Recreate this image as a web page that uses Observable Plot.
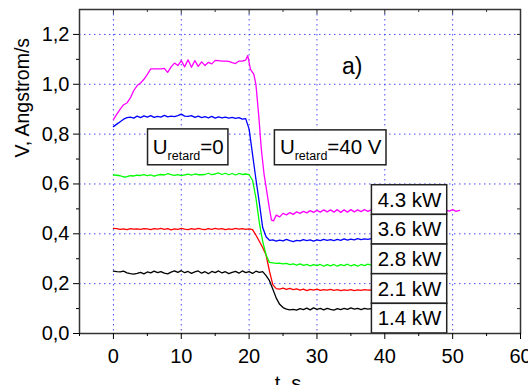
<!DOCTYPE html>
<html>
<head>
<meta charset="utf-8">
<script src="https://cdn.jsdelivr.net/npm/d3@7"></script>
<script src="https://cdn.jsdelivr.net/npm/@observablehq/plot@0.6"></script>
<style>
  html, body { margin: 0; padding: 0; background: white; overflow: hidden; }
  #chart { width: 528px; height: 385px; }
</style>
</head>
<body>
<div id="chart"></div>
<script>
// ---- Ticks ----
const xMajor = [0, 10, 20, 30, 40, 50, 60];
const xMinor = [-5, 5, 15, 25, 35, 45, 55];
const yMajor = [0, 0.2, 0.4, 0.6, 0.8, 1.0, 1.2];
const yMinor = [0.1, 0.3, 0.5, 0.7, 0.9, 1.1];
const gridXVals = [0, 10, 20, 30, 40, 50];
const gridYVals = [0.2, 0.4, 0.6, 0.8, 1.0, 1.2];

// ---- Series (t in s, V in Angstrom/s) ----
const s14 = [[0,.250],[.5,.248],[1,.247],[1.5,.250],[2,.243],[2.5,.240],[3,.238],[3.5,.241],[4,.245],[4.5,.239],[5,.247],[5.5,.243],[6,.250],[6.5,.244],[7,.248],[7.5,.242],[8,.239],[8.5,.246],[9,.251],[9.5,.245],[10,.252],[10.5,.244],[11,.249],[11.5,.241],[12,.247],[12.5,.251],[13,.242],[13.5,.248],[14,.240],[14.5,.249],[15,.244],[15.5,.251],[16,.243],[16.5,.248],[17,.240],[17.5,.245],[18,.249],[18.5,.242],[19,.251],[19.5,.244],[20,.248],[20.5,.241],[21,.250],[21.5,.245],[22,.248],
  [22.5,.232],[23,.212],[23.5,.178],[24,.142],[24.5,.117],[25,.104],[25.5,.098],[26,.095],[26.5,.097],
  [27,.094],[27.5,.100],[28,.096],[28.5,.102],[29,.095],[29.5,.103],[30,.097],[30.5,.101],[31,.095],[31.5,.101],[32,.097],[32.5,.094],[33,.100],[33.5,.096],[34,.101],[34.5,.097],[35,.103],[35.5,.098],[36,.101],[36.5,.096],[37,.101],[37.5,.098],[38,.100],[38.5,.098]];

const s21 = [[0,.422],[.5,.421],[1,.418],[1.5,.420],[2,.417],[2.5,.421],[3,.419],[3.5,.420],[4,.418],[4.5,.421],[5,.420],[5.5,.417],[6,.421],[6.5,.419],[7,.422],[7.5,.418],[8,.421],[8.5,.416],[9,.420],[9.5,.418],[10,.422],[10.5,.419],[11,.417],[11.5,.421],[12,.418],[12.5,.422],[13,.419],[13.5,.417],[14,.421],[14.5,.418],[15,.422],[15.5,.419],[16,.421],[16.5,.417],[17,.420],[17.5,.418],[18,.422],[18.5,.419],[19,.421],[19.5,.418],[20,.420],[20.5,.417],
  [21,.395],[21.5,.370],[22,.345],[22.5,.315],[23,.250],[23.5,.195],[24,.180],
  [24.5,.178],[25,.182],[25.5,.177],[26,.181],[26.5,.176],[27,.179],[27.5,.174],[28,.178],[28.5,.172],[29,.177],[29.5,.174],[30,.178],[30.5,.173],[31,.176],[31.5,.174],[32,.177],[32.5,.173],[33,.176],[33.5,.172],[34,.175],[34.5,.173],[35,.176],[35.5,.172],[36,.175],[36.5,.173],[37,.176],[37.5,.174],[38,.175],[38.5,.174]];

const s28 = [[0,.636],[.5,.635],[1,.633],[1.5,.628],[2,.629],[2.5,.633],[3,.632],[3.5,.635],[4,.634],[4.5,.637],[5,.633],[5.5,.636],[6,.631],[6.5,.635],[7,.638],[7.5,.636],[8,.641],[8.5,.637],[9,.634],[9.5,.637],[10,.633],[10.5,.636],[11,.639],[11.5,.635],[12,.640],[12.5,.637],[13,.637],[13.5,.638],[14,.643],[14.5,.637],[15,.640],[15.5,.644],[16,.638],[16.5,.643],[17,.637],[17.5,.642],[18,.636],[18.5,.642],[19,.638],[19.5,.640],[20,.637],
  [20.5,.615],[21,.545],[21.5,.445],[22,.370],[22.5,.315],[23,.285],
  [23.5,.283],[24,.281],[24.5,.282],[25,.279],[25.5,.281],[26,.276],[26.5,.279],[27,.274],[27.5,.279],[28,.273],[28.5,.277],[29,.271],[29.5,.276],[30,.272],[30.5,.277],[31,.270],[31.5,.276],[32,.271],[32.5,.277],[33,.270],[33.5,.276],[34,.272],[34.5,.278],[35,.271],[35.5,.276],[36,.270],[36.5,.277],[37,.272],[37.5,.278],[38,.274],[38.5,.276]];

const s36 = [[0,.830],[.5,.840],[1,.850],[1.5,.860],[2,.866],[2.5,.868],[3,.864],[3.5,.872],[4,.866],[4.5,.873],[5,.868],[5.5,.874],[6,.867],[6.5,.871],[7,.868],[7.5,.875],[8,.869],[8.5,.872],[9,.870],[9.5,.874],[10,.880],[10.5,.872],[11,.871],[11.5,.874],[12,.867],[12.5,.872],[13,.866],[13.5,.870],[14,.865],[14.5,.871],[15,.864],[15.5,.869],[16,.865],[16.5,.868],[17,.864],[17.5,.867],[18,.863],[18.5,.866],[19,.860],[19.5,.862],
  [20,.820],[20.5,.720],[21,.620],[21.5,.525],[22,.425],[22.5,.388],[23,.374],
  [23.5,.376],[24,.371],[24.5,.375],[25,.372],[25.5,.378],[26,.373],[26.5,.369],[27,.374],[27.5,.372],[28,.377],[28.5,.373],[29,.376],[29.5,.371],[30,.376],[30.5,.373],[31,.378],[31.5,.374],[32,.377],[32.5,.373],[33,.378],[33.5,.374],[34,.380],[34.5,.375],[35,.379],[35.5,.376],[36,.381],[36.5,.377],[37,.380],[37.5,.378],[38,.381],[38.5,.379]];

const s43 = [[0,.858],[.5,.880],[1,.900],[1.5,.918],[2,.925],[2.5,.945],[3,.975],[3.5,.995],[4,1.005],[4.5,1.020],[5,1.040],[5.5,1.062],[6,1.062],[6.5,1.062],[7,1.062],[7.5,1.064],[8,1.048],[8.5,1.070],[9,1.085],[9.5,1.075],[10,1.095],[10.5,1.070],[11,1.098],[11.5,1.068],[12,1.095],[12.5,1.072],[13,1.090],[13.5,1.075],[14,1.088],[14.5,1.082],[15,1.096],[15.5,1.095],[16,1.093],[16.5,1.093],[17,1.092],[17.5,1.087],[18,1.083],[18.5,1.093],[19,1.093],[19.5,1.097],[19.8,1.115],
  [20.2,1.060],[20.7,1.040],[21,1.000],[21.4,.880],[21.8,.740],[22.2,.640],[22.6,.570],[23,.500],[23.3,.455],[23.6,.452],
  [24,.475],[24.5,.468],[25,.482],[25.5,.476],[26,.485],[26.5,.478],[27,.488],[27.5,.482],[28,.490],[28.5,.484],[29,.493],[29.5,.486],[30,.494],[30.5,.487],[31,.496],[31.5,.488],[32,.496],[32.5,.487],[33,.497],[33.5,.486],[34,.496],[34.5,.487],[35,.497],[35.5,.488],[36,.496],[36.5,.489],[37,.497],[37.5,.490],[38,.496],[38.5,.490],
  [39,.495],[40,.493],[41,.496],[42,.492],[43,.495],[44,.493],[45,.496],[46,.492],[47,.495],[48,.494],[49,.495],[49.5,.491],[50,.497],[50.5,.490],[51,.494]];

const seriesData = [s14, s21, s28, s36, s43];
const seriesColors = ["#000000", "#ff0000", "#00ff00", "#0000ff", "#ff00ff"];
const legendLabels = ["4.3 kW", "3.6 kW", "2.8 kW", "2.1 kW", "1.4 kW"];

// ---- Annotation anchors (data coordinates) ----
const legendX1 = 38.1, legendX2 = 49.2, legendTop = 0.595, legendStep = 0.119;
const legendBoxes = legendLabels.map((label, i) => ({
  label, x1: legendX1, x2: legendX2,
  y1: legendTop - legendStep * (i + 1), y2: legendTop - legendStep * i
}));
const retardBoxes = [
  {label: "U|retard|=0", x1: 5.1, x2: 16.95, y1: 0.675, y2: 0.819},
  {label: "U|retard|=40 V", x1: 23.8, x2: 40.25, y1: 0.675, y2: 0.815}
];
const panelLabel = [{label: "a)", x: 35.2, y: 1.07}];

const comma = d => d.toFixed(1).replace(".", ",");
const W = 528, H = 385, mL = 79, mR = 8, mT = 9, mB = 52;
const frameW = W - mL - mR, frameH = H - mT - mB;

const lineMarks = seriesData.map((s, i) =>
  Plot.line(s, {x: d => d[0], y: d => d[1], stroke: seriesColors[i], strokeWidth: 1.3}));

const chart = Plot.plot({
  width: W, height: H,
  marginLeft: mL, marginRight: mR, marginTop: mT, marginBottom: mB,
  x: {domain: [-5, 60]},
  y: {domain: [0, 1.3]},
  style: {fontFamily: "'Liberation Sans', Arial, sans-serif", fontSize: "20px", background: "white", color: "black"},
  marks: [
    Plot.gridX(gridXVals, {stroke: "#2a2aff", strokeOpacity: 0.85, strokeDasharray: "1.5,3.5", strokeWidth: 1}),
    Plot.gridY(gridYVals, {stroke: "#2a2aff", strokeOpacity: 0.85, strokeDasharray: "1.5,3.5", strokeWidth: 1}),
    ...lineMarks,
    Plot.rect(retardBoxes, {x1: "x1", x2: "x2", y1: "y1", y2: "y2", fill: "white", stroke: "#222", strokeWidth: 1.5}),
    Plot.rect(legendBoxes, {x1: "x1", x2: "x2", y1: "y1", y2: "y2", fill: "white", stroke: "#222", strokeWidth: 1.5}),
    Plot.text(retardBoxes, {x: d => (d.x1 + d.x2) / 2, y: d => (d.y1 + d.y2) / 2, text: "label", fontSize: 20.5, fill: "black"}),
    Plot.text(legendBoxes, {x: d => (d.x1 + d.x2) / 2, y: d => (d.y1 + d.y2) / 2, text: "label", fontSize: 20.5, fill: "black"}),
    Plot.text(panelLabel, {x: "x", y: "y", text: "label", fontSize: 23, fill: "black"}),
    Plot.frame({stroke: "#333", strokeWidth: 1.5}),
    Plot.axisY({ticks: yMajor, tickSize: 6, tickPadding: 4, tickFormat: comma, label: null, fontSize: 20}),
    Plot.axisY({ticks: yMinor, tickSize: 3, tickFormat: () => "", label: null}),
    Plot.axisX({ticks: xMajor, tickSize: 6, tickPadding: 9, label: null, fontSize: 20}),
    Plot.axisX({ticks: xMinor, tickSize: 3, tickFormat: () => "", label: null}),
    Plot.tickX(xMajor.slice(0, -1), {x: d => d, insetBottom: frameH - 5, stroke: "#333"}),
    Plot.tickX(xMinor.slice(1), {x: d => d, insetBottom: frameH - 3, stroke: "#333"}),
    Plot.tickY(yMajor.slice(1), {y: d => d, insetLeft: frameW - 3, stroke: "#333"}),
    Plot.tickY(yMinor, {y: d => d, insetLeft: frameW - 3, stroke: "#333"}),
    Plot.text(["V, Angstrom/s"], {frameAnchor: "left", text: d => d, rotate: -90, dx: -57, dy: -14, fontSize: 19.5, fill: "black"}),
    Plot.text(["t, s"], {frameAnchor: "bottom", text: d => d, lineAnchor: "top", dx: -12, dy: 42, fontSize: 20, fill: "black"})
  ]
});

// Subscript rendering for "U_retard" labels
d3.select(chart).selectAll("text").each(function() {
  const t = this.textContent;
  if (t.includes("|")) {
    const [a, b, c] = t.split("|");
    const sel = d3.select(this);
    sel.text(null);
    sel.append("tspan").text(a);
    sel.append("tspan").attr("font-size", 12.5).attr("dy", 6).text(b);
    sel.append("tspan").attr("dy", -6).text(c);
  }
});

document.getElementById("chart").appendChild(chart);
</script>
</body>
</html>
